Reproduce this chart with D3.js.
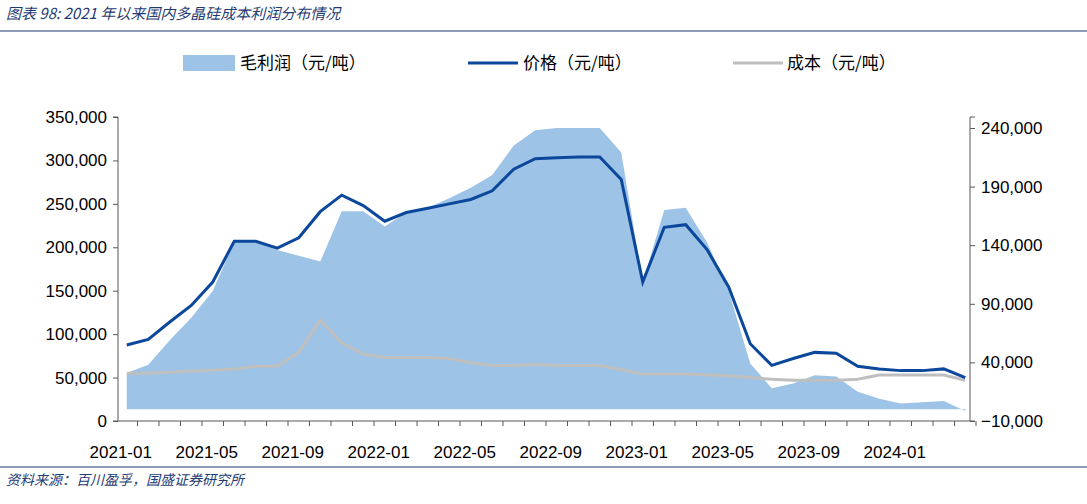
<!DOCTYPE html>
<html><head><meta charset="utf-8">
<script src="https://cdn.jsdelivr.net/npm/d3@7"></script>
<style>body{margin:0;background:#fff}svg{font-family:"Liberation Sans",Arial,sans-serif}</style>
</head><body><svg id="c" width="1087" height="504"></svg>
<script>
const months = [];
for (let y = 2021; y <= 2024; y++) for (let m = 1; m <= 12; m++) { if (y === 2024 && m > 4) break; months.push(y + "-" + String(m).padStart(2, "0")); }
const price = [87500,94000,114000,133000,160000,207000,207000,199000,211000,241000,260000,248000,230000,240000,245000,250000,255000,265000,290000,302000,303000,304000,304000,278000,160000,223000,226000,197000,154000,89000,64000,72000,79000,78000,63000,60000,58000,58000,60000,50000];
const cost = [55000,55000,56000,57500,58500,60000,63000,63000,79000,116000,90000,77000,73000,73000,73000,72000,67000,64000,64000,65000,64000,64000,64000,59000,54000,54000,54000,53000,52000,50000,48000,47000,47000,47000,48000,53000,53000,53000,53000,47000];
const profit = [31000,38000,59000,78000,101000,143000,143000,136000,131000,126000,169000,169000,156000,168000,172000,180000,189000,200000,225000,238000,240000,240000,240000,219000,108000,170000,172000,142000,101000,39000,18000,22000,29000,28000,15000,9000,5000,6000,7000,-1500];
const leftTicks = [0,50000,100000,150000,200000,250000,300000,350000];
const rightTicks = [-10000,40000,90000,140000,190000,240000];
const xLabels = ["2021-01","2021-05","2021-09","2022-01","2022-05","2022-09","2023-01","2023-05","2023-09","2024-01"];

const svg = d3.select("#c");
const L = 118, R = 970, T = 117, B = 421;
const x = d3.scaleBand().domain(months).range([116, 976]).padding(0);
const cx = d => x(d) + x.bandwidth() / 2;
const yL = d3.scaleLinear().domain([0, 350000]).range([B, T]);
const yR = d3.scaleLinear().domain([-10000, 240000]).range([B, 128]);
const fmt = d3.format(",");

const titleColor = "#1F3B73";
svg.append("text").attr("x", 6).attr("y", 19).attr("font-size", 15).attr("font-style", "italic").attr("fill", titleColor)
  .attr("font-family", "'Noto Sans CJK SC',sans-serif").text("图表 98:  2021 年以来国内多晶硅成本利润分布情况");
svg.append("line").attr("x1", 0).attr("x2", 1087).attr("y1", 31).attr("y2", 31).attr("stroke", "#1F3B73").attr("stroke-width", 1);
svg.append("line").attr("x1", 0).attr("x2", 1087).attr("y1", 467).attr("y2", 467).attr("stroke", "#1F3B73").attr("stroke-width", 1);
svg.append("text").attr("x", 6).attr("y", 485).attr("font-size", 14).attr("font-style", "italic").attr("fill", titleColor)
  .attr("font-family", "'Noto Sans CJK SC',sans-serif").text("资料来源：百川盈孚，国盛证券研究所");

// area
svg.append("path").datum(months).attr("fill", "#9DC3E6")
  .attr("d", d3.area().x(d => cx(d)).y0(yR(0)).y1((d, i) => yR(profit[i]))(months));
// cost
svg.append("path").attr("fill", "none").attr("stroke", "#BFBFBF").attr("stroke-width", 3)
  .attr("d", d3.line().x(d => cx(d)).y((d, i) => yL(cost[i]))(months));
// price
svg.append("path").attr("fill", "none").attr("stroke", "#0B479B").attr("stroke-width", 3)
  .attr("d", d3.line().x(d => cx(d)).y((d, i) => yL(price[i]))(months));

// axes
const gl = svg.append("g").attr("transform", `translate(${L},0)`)
  .call(d3.axisLeft(yL).tickValues(leftTicks).tickFormat(fmt).tickSize(5).tickPadding(6));
const gr = svg.append("g").attr("transform", `translate(${R},0)`)
  .call(d3.axisRight(yR).tickValues(rightTicks).tickFormat(fmt).tickSize(5).tickPadding(6));
[gl, gr].forEach(g => { g.selectAll("text").attr("font-size", 17).attr("fill", "#000"); g.selectAll("line,path").attr("stroke", "#595959"); });
gr.select(".domain").attr("d", `M5,${T}H0V${B}H5`);
gl.select(".domain").attr("d", `M-5,${T}H0V${B}H-5`);

// x axis
const gx = svg.append("g");
gx.append("line").attr("x1", L).attr("x2", R).attr("y1", B).attr("y2", B).attr("stroke", "#595959");
months.forEach(m => {
  gx.append("line").attr("x1", x(m) + x.bandwidth()).attr("x2", x(m) + x.bandwidth()).attr("y1", B).attr("y2", B + 5).attr("stroke", "#595959");
});
xLabels.forEach(l => {
  gx.append("text").attr("x", cx(l) - 6).attr("y", 458).attr("text-anchor", "middle").attr("font-size", 17).text(l);
});

// legend
const lg = svg.append("g").attr("font-family", "'Noto Sans CJK SC',sans-serif").attr("font-size", 17);
lg.append("rect").attr("x", 183).attr("y", 55).attr("width", 52).attr("height", 16).attr("fill", "#9DC3E6");
lg.append("text").attr("x", 240).attr("y", 69).text("毛利润（元/吨）");
lg.append("line").attr("x1", 468).attr("x2", 518).attr("y1", 63).attr("y2", 63).attr("stroke", "#0B479B").attr("stroke-width", 3);
lg.append("text").attr("x", 523).attr("y", 69).text("价格（元/吨）");
lg.append("line").attr("x1", 733).attr("x2", 783).attr("y1", 63).attr("y2", 63).attr("stroke", "#BFBFBF").attr("stroke-width", 3);
lg.append("text").attr("x", 787).attr("y", 69).text("成本（元/吨）");
</script></body></html>
